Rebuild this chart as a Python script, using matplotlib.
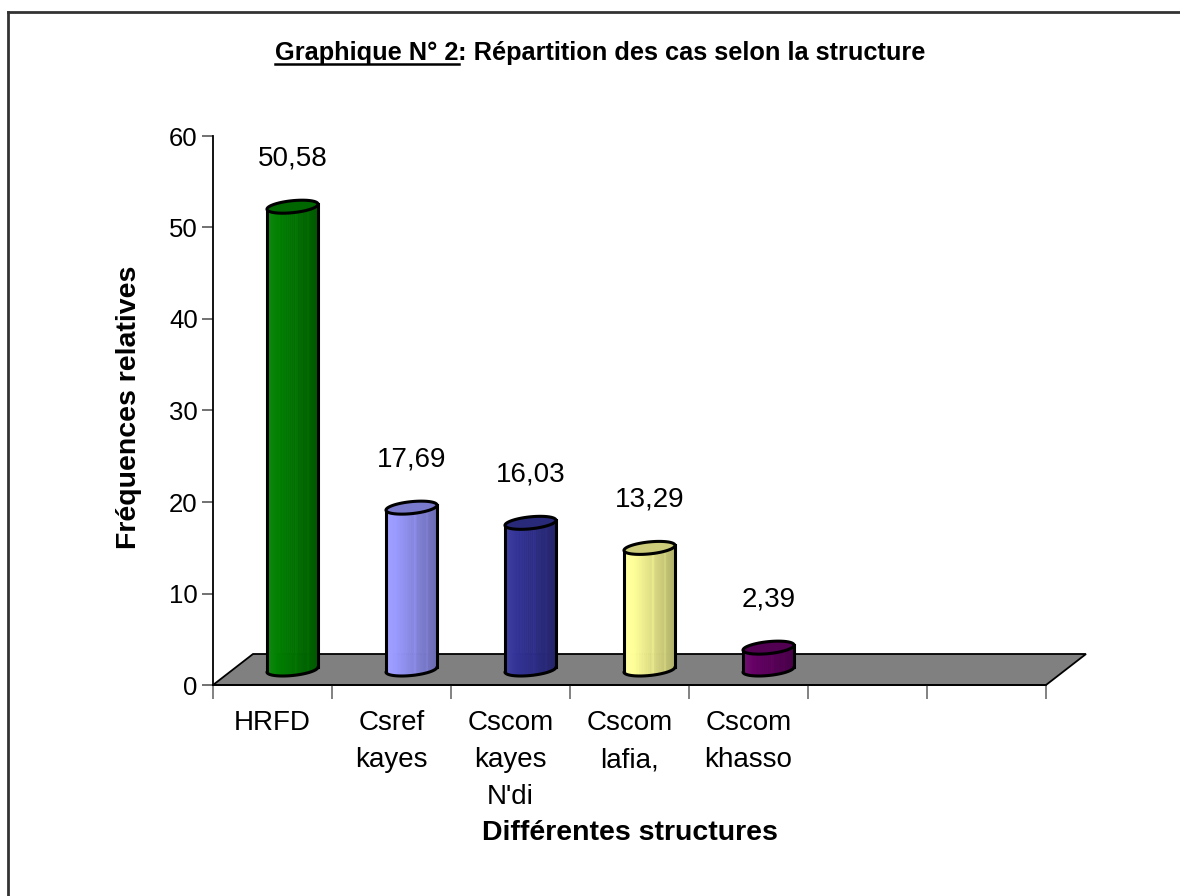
import matplotlib
matplotlib.use('Agg')
import matplotlib.pyplot as plt
import numpy as np
from matplotlib.patches import Polygon
from matplotlib.lines import Line2D
from matplotlib.colors import to_rgb

# ---- data ----
categories = ["HRFD", "Csref\nkayes", "Cscom\nkayes\nN'di", "Cscom\nlafia,", "Cscom\nkhasso"]
values = [50.58, 17.69, 16.03, 13.29, 2.39]
value_labels = ["50,58", "17,69", "16,03", "13,29", "2,39"]
bar_colors = ["#008000", "#9999FF", "#333399", "#FFFF99", "#660066"]
n_slots = 7
yticks = [0, 10, 20, 30, 40, 50, 60]
title_part1 = "Graphique N° 2"
title_part2 = ": Répartition des cas selon la structure"
xlabel = "Différentes structures"
ylabel = "Fréquences relatives"

plt.rcParams['font.family'] = ['Liberation Sans', 'DejaVu Sans']

W, H = 1180, 896
fig = plt.figure(figsize=(W / 100, H / 100), dpi=100)
ax = fig.add_axes([213 / W, 211 / H, 833 / W, 549 / H])
ax.set_xlim(0, n_slots)
ax.set_ylim(0, 60)
ax.patch.set_visible(False)

# pixel -> data conversions for 3D depth
px_x = n_slots / 833.0
px_y = 60.0 / 549.0
dx = 40 * px_x
dy = 31 * px_y

for s in ['top', 'right']:
    ax.spines[s].set_visible(False)
ax.spines['left'].set_color('black')
ax.spines['left'].set_linewidth(1.3)
ax.spines['bottom'].set_color('black')
ax.spines['bottom'].set_linewidth(1.3)
ax.spines['bottom'].set_zorder(2)

ax.set_yticks(yticks)
ax.set_yticklabels([str(v) for v in yticks])
ax.tick_params(axis='y', direction='out', length=8, width=1.3, color='#666666',
               labelsize=18.5, pad=3)
ax.set_xticks(range(n_slots + 1))
ax.set_xticklabels([])
ax.tick_params(axis='x', which='major', direction='out', length=10, width=1.3,
               color='#777777')
ax.set_xticks([i + 0.5 for i in range(len(categories))], minor=True)
ax.set_xticklabels(categories, minor=True, fontsize=20, linespacing=1.55)
ax.tick_params(axis='x', which='minor', length=0, pad=18)

# floor
floor = Polygon([(0, 0), (n_slots, 0), (n_slots + dx, dy), (dx, dy)], closed=True,
                facecolor='#808080', edgecolor='black', lw=1.3, zorder=1, clip_on=False)
ax.add_patch(floor)


def shade(c, f):
    c = np.array(to_rgb(c))
    if f >= 1:
        return tuple(c + (1 - c) * (f - 1))
    return tuple(c * f)


a = 25.5 * px_x
b = 6.0 * px_y
sh = 2.5 * px_y
N = 60
for i, (v, col, lab) in enumerate(zip(values, bar_colors, value_labels)):
    cx = i + 0.5 + dx / 2
    y0 = dy / 2
    y1 = v + dy / 2
    z = 3 + i
    th = np.linspace(np.pi, 2 * np.pi, N + 1)
    xs = cx + a * np.cos(th)
    yb = y0 + b * np.sin(th) + sh * np.cos(th)
    yt = y1 + b * np.sin(th) + sh * np.cos(th)
    for k in range(N):
        t = (0.5 * (xs[k] + xs[k + 1]) - (cx - a)) / (2 * a)
        f = 1.08 - 0.38 * t
        if 0.55 < t < 0.6 or 0.8 < t < 0.84:
            f += 0.05
        fc = shade(col, f)
        poly = Polygon([(xs[k], yb[k]), (xs[k + 1], yb[k + 1]), (xs[k + 1], yt[k + 1]), (xs[k], yt[k])],
                       closed=True, facecolor=fc, edgecolor=fc, lw=0.6, zorder=z, clip_on=False)
        ax.add_patch(poly)
    # outline of body
    ax.plot(xs, yb, color='black', lw=2.2, zorder=z + 0.2, clip_on=False, solid_capstyle='round')
    ax.plot([xs[0], xs[0]], [yb[0], yt[0]], color='black', lw=2.2, zorder=z + 0.2, clip_on=False)
    ax.plot([xs[-1], xs[-1]], [yb[-1], yt[-1]], color='black', lw=2.2, zorder=z + 0.2, clip_on=False)
    # top ellipse
    thf = np.linspace(0, 2 * np.pi, 120)
    tx = cx + a * np.cos(thf)
    ty = y1 + b * np.sin(thf) + sh * np.cos(thf)
    top = Polygon(np.column_stack([tx, ty]), closed=True, facecolor=shade(col, 0.8),
                  edgecolor='black', lw=2.2, zorder=z + 0.3, clip_on=False)
    ax.add_patch(top)
    ax.text(cx, y1 + 48 * px_y, lab, ha='center', va='center', fontsize=20,
            color='black', zorder=20, clip_on=False)

# axis titles
fig.text(630 / W, 1 - 833 / H, xlabel, ha='center', va='center', fontsize=20.5,
         fontweight='bold')
fig.text(129 / W, 1 - 407 / H, ylabel, ha='center', va='center', fontsize=20.5,
         fontweight='bold', rotation=90)

# title with underlined first part
t1 = fig.text(275 / W, 1 - 53 / H, title_part1, ha='left', va='center', fontsize=18.3,
              fontweight='bold')
fig.canvas.draw()
r = fig.canvas.get_renderer()
bb = t1.get_window_extent(r)
x_end = bb.x1 / W
fig.text(x_end, 1 - 53 / H, title_part2, ha='left', va='center', fontsize=18.3,
         fontweight='bold')
fig.add_artist(Line2D([bb.x0 / W, x_end], [1 - 64 / H, 1 - 64 / H], color='black', lw=1.8))

# border (top and left visible)
fig.add_artist(Line2D([8 / W, 1.0], [1 - 12 / H, 1 - 12 / H], color='#333333', lw=2))
fig.add_artist(Line2D([8 / W, 8 / W], [1 - 12 / H, 0.0], color='#333333', lw=2))

fig.savefig('out.png', dpi=100, facecolor='white')
